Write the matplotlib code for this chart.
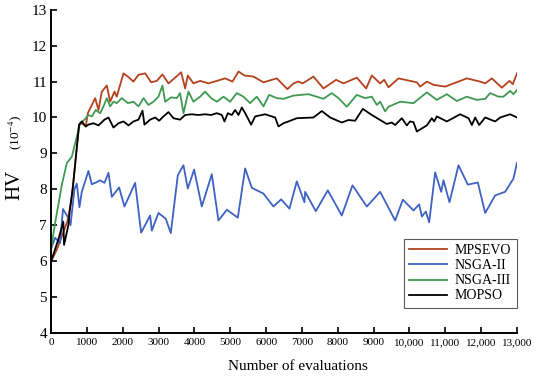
import numpy as np
import matplotlib
matplotlib.use('Agg')
import matplotlib.pyplot as plt
from matplotlib.ticker import FixedLocator

plt.rcParams['font.family'] = 'Liberation Serif'
plt.rcParams['mathtext.fontset'] = 'stix'

# ─── data (HV in units of 1e-4) ───
mpsevo_x = [0, 150, 300, 450, 550, 620, 700, 780, 856, 967, 1023, 1228, 1321, 1414, 1553,
            1646, 1767, 1832, 1897, 2018, 2139, 2297, 2437, 2623, 2790, 2948, 3106, 3274,
            3460, 3627, 3739, 3813, 3971, 4157, 4390, 4623, 4855, 5060, 5228, 5395, 5646,
            5925, 6297, 6594, 6762, 6900, 7021, 7320, 7599, 7952, 8157, 8530, 8790, 8948,
            9181, 9293, 9414, 9693, 10205, 10298, 10484, 10670, 10996, 11600, 11972, 12112,
            12298, 12577, 12791, 12884, 13000]
mpsevo_y = [6.0, 6.3, 6.7, 7.1, 7.6, 8.2, 9.0, 9.8, 9.84, 9.75, 10.12, 10.54, 10.21, 10.72, 10.89,
            10.44, 10.72, 10.58, 10.81, 11.23, 11.14, 11.0, 11.19, 11.23, 10.98, 11.02, 11.2, 10.95,
            11.11, 11.26, 10.81, 11.17, 10.95, 11.02, 10.95, 11.02, 11.09, 11.0, 11.28, 11.17, 11.14,
            10.98, 11.09, 10.79, 10.95, 11.0, 10.95, 11.14, 10.81, 11.05, 10.95, 11.11, 10.81, 11.17,
            10.95, 11.05, 10.84, 11.09, 10.98, 10.86, 11.0, 10.91, 10.86, 11.09, 11.0, 10.95,
            11.09, 10.83, 11.02, 10.93, 11.23]

nsga2_x = [0, 110, 250, 330, 480, 540, 650, 716, 790, 855, 1041, 1135, 1274, 1367, 1488,
           1600, 1692, 1897, 2046, 2344, 2511, 2762, 2809, 2995, 3199, 3339, 3534, 3692,
           3813, 3990, 4204, 4483, 4669, 4902, 5209, 5414, 5600, 5925, 6204, 6418, 6650,
           6855, 7069, 7088, 7385, 7720, 8111, 8409, 8809, 9181, 9600, 9814, 10112, 10270,
           10344, 10456, 10549, 10716, 10884, 10949, 11116, 11368, 11628, 11907, 12112,
           12391, 12670, 12902, 13000]
nsga2_y = [6.35, 6.65, 6.5, 7.45, 7.2, 7.0, 8.0, 8.16, 7.5, 7.93, 8.51, 8.14, 8.2, 8.25, 8.18,
           8.46, 7.79, 8.05, 7.52, 8.18, 6.79, 7.27, 6.85, 7.34, 7.18, 6.78, 8.39, 8.67,
           8.02, 8.55, 7.52, 8.42, 7.13, 7.43, 7.21, 8.58, 8.04, 7.88, 7.52, 7.72, 7.46,
           8.22, 7.64, 7.93, 7.39, 7.97, 7.27, 8.11, 7.52, 7.93, 7.13, 7.71, 7.41, 7.58,
           7.24, 7.38, 7.08, 8.47, 7.93, 8.25, 7.64, 8.67, 8.13, 8.19, 7.34,
           7.83, 7.93, 8.3, 8.74]

nsga3_x = [0, 100, 298, 437, 577, 716, 809, 930, 1041, 1135, 1246, 1367, 1460, 1553, 1646,
           1739, 1832, 1972, 2139, 2297, 2437, 2577, 2716, 2856, 2995, 3106, 3181, 3348,
           3506, 3599, 3692, 3832, 3971, 4157, 4297, 4464, 4623, 4809, 4995, 5181, 5367,
           5553, 5739, 5925, 6083, 6297, 6483, 6762, 7181, 7599, 7831, 8017, 8250, 8530,
           8762, 8948, 9088, 9181, 9320, 9414, 9739, 10111, 10484, 10763, 11042, 11321,
           11600, 11879, 12112, 12251, 12484, 12623, 12809, 12902, 13000]
nsga3_y = [6.35, 7.0, 8.12, 8.73, 8.91, 9.47, 9.84, 9.94, 10.07, 10.03, 10.21, 10.12, 10.31, 10.54, 10.31,
           10.44, 10.4, 10.54, 10.4, 10.44, 10.31, 10.54, 10.35, 10.44, 10.58, 10.89, 10.44, 10.56,
           10.54, 10.68, 10.12, 10.72, 10.44, 10.58, 10.72, 10.54, 10.44, 10.58, 10.44, 10.68, 10.58,
           10.4, 10.58, 10.31, 10.63, 10.54, 10.52, 10.61, 10.65, 10.52, 10.68, 10.54, 10.3, 10.63,
           10.54, 10.58, 10.35, 10.44, 10.17, 10.3, 10.44, 10.4, 10.7, 10.49, 10.65, 10.46,
           10.58, 10.49, 10.52, 10.68, 10.58, 10.58, 10.74, 10.65, 10.77]

mopso_x = [0, 200, 340, 360, 480, 530, 600, 700, 780, 856, 967, 1041, 1181, 1321, 1488,
           1600, 1739, 1879, 2018, 2158, 2297, 2437, 2549, 2604, 2762, 2902, 3013, 3134,
           3274, 3413, 3599, 3739, 3925, 4111, 4297, 4464, 4623, 4762, 4837, 4930, 5041,
           5134, 5228, 5321, 5414, 5581, 5693, 5972, 6251, 6344, 6483, 6622, 6855, 7320,
           7553, 7785, 8111, 8297, 8483, 8697, 8948, 9181, 9367, 9507, 9600, 9786, 9925,
           10018, 10111, 10205, 10484, 10623, 10688, 10763, 11042, 11414, 11647, 11740,
           11833, 11944, 12112, 12391, 12530, 12809, 13000]
mopso_y = [6.0, 6.6, 7.1, 6.45, 7.0, 7.5, 8.0, 9.0, 9.8, 9.89, 9.75, 9.8, 9.84, 9.78, 9.94,
           10.0, 9.72, 9.84, 9.89, 9.78, 9.89, 9.94, 10.19, 9.8, 9.94, 10.0, 9.91, 10.03,
           10.15, 9.98, 9.94, 10.07, 10.09, 10.07, 10.09, 10.07, 10.12, 10.07, 9.89, 10.12, 10.07,
           10.21, 10.07, 10.28, 10.12, 9.8, 10.03, 10.09, 10.0, 9.75, 9.84, 9.89, 9.98, 10.0,
           10.18, 10.0, 9.86, 9.93, 9.91, 10.24, 10.07, 9.93, 9.82, 9.86, 9.79, 9.98, 9.78,
           9.89, 9.87, 9.61, 9.78, 9.98, 9.89, 10.03, 9.89, 10.09, 9.98, 9.79,
           10.0, 9.79, 10.0, 9.89, 10.0, 10.09, 10.0]

x_ticks = list(range(0, 14000, 1000))
x_ticklabels = ['0', '1000', '2000', '3000', '4000', '5000', '6000', '7000', '8000', '9000',
                '10,000', '11,000', '12,000', '13,000']
y_ticks = list(range(4, 14))

# ─── Plot ───
fig = plt.figure(figsize=(5.5, 3.77), dpi=100)
ax = fig.add_axes([0.093, 0.117, 0.847, 0.857])

ax.plot(mpsevo_x, mpsevo_y, color='#B4421C', lw=1.3, label='MPSEVO')
ax.plot(nsga2_x, nsga2_y, color='#3F62C4', lw=1.3, label='NSGA-II')
ax.plot(nsga3_x, nsga3_y, color='#3F9A52', lw=1.3, label='NSGA-III')
ax.plot(mopso_x, mopso_y, color='black', lw=1.3, label='MOPSO')

ax.set_xlim(0, 13000)
ax.set_ylim(4, 13)
ax.xaxis.set_major_locator(FixedLocator(x_ticks))
ax.set_xticklabels(x_ticklabels, fontsize=8)
ax.yaxis.set_major_locator(FixedLocator(y_ticks))
ax.tick_params(axis='y', labelsize=11, direction='in', length=4, width=1.2, pad=3)
ax.tick_params(axis='x', direction='in', length=4, width=1.2, pad=4)
for s in ['top', 'right']:
    ax.spines[s].set_visible(False)
for s in ['left', 'bottom']:
    ax.spines[s].set_linewidth(1.4)

ax.set_xlabel('Number of evaluations', fontsize=11)
ax.xaxis.set_label_coords(0.53, -0.085)
fig.text(0.027, 0.51, 'HV', rotation=90, fontsize=15, ha='center', va='center')
fig.text(0.027, 0.65, r'(10$^{-4}$)', rotation=90, fontsize=9.5, ha='center', va='center')

leg = ax.legend(loc='lower right', bbox_to_anchor=(1.0, 0.077), fontsize=10,
                handlelength=2.7, frameon=True, fancybox=False, borderaxespad=0,
                labelspacing=0.15, borderpad=0.4, handletextpad=0.6)
leg.get_frame().set_edgecolor('#333333')
leg.get_frame().set_linewidth(0.8)

plt.savefig('out.png', dpi=100)
plt.close()
